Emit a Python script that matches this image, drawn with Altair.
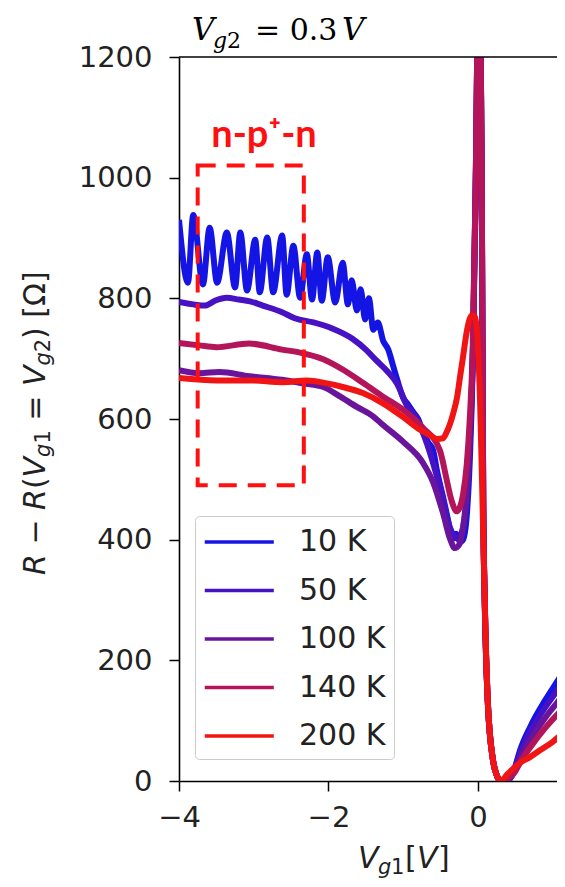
import altair as alt
import pandas as pd

temps = ["10 K", "50 K", "100 K", "140 K", "200 K"]
colors = ["#1414e4", "#4612c4", "#6a149c", "#b4145a", "#f01414"]

# (Vg1 [V], R - R(Vg1=Vg2) [Ohm])
s10 = [(-4.00, 930), (-3.88, 826), (-3.81, 938), (-3.68, 823), (-3.59, 917), (-3.49, 826),
       (-3.36, 909), (-3.25, 818), (-3.18, 909), (-3.09, 813), (-2.98, 897), (-2.92, 810),
       (-2.82, 901), (-2.74, 810), (-2.62, 904), (-2.56, 806), (-2.47, 887), (-2.38, 801),
       (-2.29, 873), (-2.22, 798), (-2.15, 876), (-2.09, 796), (-2.01, 868), (-1.91, 793),
       (-1.81, 859), (-1.74, 790), (-1.69, 830), (-1.62, 780), (-1.57, 815), (-1.51, 765),
       (-1.46, 800), (-1.40, 748), (-1.34, 760), (-1.27, 730), (-1.20, 715), (-1.14, 690),
       (-1.08, 665), (-1.00, 635), (-0.94, 625), (-0.87, 612), (-0.80, 600), (-0.74, 580),
       (-0.67, 562), (-0.60, 548), (-0.55, 515), (-0.47, 472), (-0.40, 432), (-0.35, 400),
       (-0.29, 410), (-0.24, 396), (-0.20, 400), (-0.15, 440), (-0.11, 530), (-0.07, 690),
       (-0.03, 980), (0.01, 1350), (0.05, 1000), (0.07, 466), (0.09, 300), (0.13, 134),
       (0.20, 35), (0.25, 10), (0.30, 0), (0.42, 3), (0.50, 25), (0.56, 50), (0.70, 90),
       (0.90, 134), (1.06, 165), (1.16, 184)]
s50 = [(-4.00, 794), (-3.81, 790), (-3.65, 788), (-3.52, 796), (-3.36, 801), (-3.20, 798),
       (-3.05, 795), (-2.88, 788), (-2.62, 777), (-2.45, 767), (-2.20, 760), (-1.95, 750),
       (-1.68, 733), (-1.50, 715), (-1.36, 697), (-1.22, 680), (-1.08, 658), (-0.95, 622),
       (-0.81, 598), (-0.68, 558), (-0.55, 505), (-0.47, 468), (-0.40, 430), (-0.33, 408),
       (-0.27, 402), (-0.21, 415), (-0.15, 470), (-0.11, 560), (-0.07, 700), (-0.03, 1000),
       (0.01, 1350), (0.05, 1000), (0.07, 466), (0.09, 300), (0.13, 134), (0.20, 35),
       (0.25, 10), (0.30, 0), (0.42, 3), (0.50, 22), (0.56, 44), (0.70, 82), (0.90, 122),
       (1.06, 150), (1.16, 168)]
s100 = [(-4.00, 681), (-3.73, 676), (-3.46, 678), (-3.06, 671), (-2.62, 665), (-2.34, 659),
        (-2.07, 653), (-1.88, 640), (-1.62, 620), (-1.40, 604), (-1.27, 590), (-1.00, 562),
        (-0.74, 528), (-0.60, 495), (-0.47, 445), (-0.37, 400), (-0.31, 386), (-0.25, 392),
        (-0.20, 420), (-0.15, 480), (-0.11, 570), (-0.07, 700), (-0.03, 1000), (0.01, 1350),
        (0.05, 1000), (0.07, 466), (0.09, 300), (0.13, 134), (0.20, 35), (0.25, 10), (0.30, 0),
        (0.40, 3), (0.50, 18), (0.56, 36), (0.70, 68), (0.90, 105), (1.06, 130), (1.16, 145)]
s140 = [(-4.00, 726), (-3.73, 722), (-3.50, 719), (-3.06, 725), (-2.62, 715), (-2.38, 710),
        (-2.07, 699), (-1.81, 682), (-1.54, 660), (-1.27, 637), (-1.00, 615), (-0.74, 586),
        (-0.51, 548), (-0.42, 500), (-0.37, 472), (-0.33, 456), (-0.29, 447), (-0.25, 452),
        (-0.20, 475), (-0.15, 525), (-0.11, 600), (-0.07, 720), (-0.03, 1000), (0.01, 1350),
        (0.05, 1000), (0.07, 466), (0.09, 300), (0.13, 134), (0.20, 35), (0.25, 10), (0.30, 0),
        (0.40, 4), (0.50, 16), (0.56, 30), (0.70, 56), (0.90, 88), (1.06, 110), (1.16, 122)]
s200 = [(-4.00, 668), (-3.49, 664), (-3.05, 664), (-2.61, 661), (-2.29, 664), (-2.02, 659),
        (-1.81, 653), (-1.54, 643), (-1.27, 626), (-1.00, 603), (-0.82, 586), (-0.64, 573),
        (-0.55, 567), (-0.47, 568), (-0.42, 578), (-0.33, 610), (-0.28, 636), (-0.24, 670),
        (-0.20, 703), (-0.15, 745), (-0.08, 772), (-0.04, 769), (-0.01, 740), (0.03, 620),
        (0.06, 466), (0.09, 300), (0.13, 134), (0.20, 35), (0.25, 10), (0.30, 0), (0.40, 12),
        (0.56, 30), (0.70, 40), (0.83, 51), (1.00, 65), (1.16, 82)]
series = [s10, s50, s100, s140, s200]

# annotation box (n-p+-n region), in data units
box_x = [-3.75, -2.33]
box_y = [490, 1020]

x_ticks = [-4, -2, 0]
y_ticks = [0, 200, 400, 600, 800, 1000, 1200]

rows = []
for t, s in zip(temps, series):
    for vx, vy in s:
        rows.append({"Vg1": vx, "R": vy, "T": t})
df = pd.DataFrame(rows)

W, H = 378, 724
xscale = alt.Scale(domain=[-4, 1.057], nice=False, zero=False)
yscale = alt.Scale(domain=[0, 1200], nice=False, zero=False)

xaxis = alt.Axis(values=x_ticks, title=None, grid=False, labelFont="DejaVu Sans",
                 labelFontSize=29, labelColor="#222222", tickColor="black", tickSize=10,
                 tickWidth=1.5, domainColor="black", domainWidth=1.6, labelPadding=12,
                 labelFlush=False, labelOverlap=False, format="d")
yaxis = alt.Axis(values=y_ticks, title=None, grid=False, labelFont="DejaVu Sans",
                 labelFontSize=29, labelColor="#222222", tickColor="black", tickSize=10,
                 tickWidth=1.5, domainColor="black", domainWidth=1.6, labelPadding=17,
                 labelOverlap=False, format="d")

color = alt.Color("T:N", scale=alt.Scale(domain=temps, range=colors), sort=temps,
                  legend=alt.Legend(title=None, orient="none", legendX=16, legendY=459))

layers = []
for t in temps:
    layers.append(alt.Chart(df[df["T"] == t]).mark_line(
        strokeWidth=6, clip=True, interpolate="monotone").encode(
        x=alt.X("Vg1:Q", scale=xscale, axis=xaxis),
        y=alt.Y("R:Q", scale=yscale, axis=yaxis),
        color=color))

top_spine = alt.Chart(alt.Data(values=[{"v": 1200}])).mark_rule(
    color="black", strokeWidth=1.6).encode(y=alt.Y("v:Q", scale=yscale, axis=yaxis))

box = alt.Chart(alt.Data(values=[{"x1": box_x[0], "x2": box_x[1], "y1": box_y[0], "y2": box_y[1]}])).mark_rect(
    fill=None, fillOpacity=0, stroke="#ff1010", strokeWidth=4, strokeDash=[18, 11]).encode(
    x=alt.X("x1:Q", scale=xscale, axis=xaxis), x2="x2:Q",
    y=alt.Y("y1:Q", scale=yscale, axis=yaxis), y2="y2:Q")


def txt(s, px, py, size=30, style="normal", weight="normal", font="DejaVu Sans",
        angle=0, color_="#222222", align="left"):
    kw = dict(fontSize=size, fontStyle=style, fontWeight=weight, font=font, color=color_,
              align=align, baseline="alphabetic")
    if angle:
        kw["angle"] = angle
    return alt.Chart(alt.Data(values=[{"s": s}])).mark_text(**kw).encode(
        text="s:N", x=alt.value(px - 179), y=alt.value(py - 57))


texts = []
# title: V_g2 = 0.3 V
texts += [txt("V", 192, 40, 31, "italic", font="DejaVu Serif", color_="black"),
          txt("g", 213, 48, 22, "italic", font="DejaVu Serif", color_="black"),
          txt("2", 227, 48, 22, font="DejaVu Serif", color_="black"),
          txt("= 0.3", 255, 40, 30, font="DejaVu Serif", color_="black"),
          txt("V", 342, 40, 31, "italic", font="DejaVu Serif", color_="black")]
# x title: V_g1[V]
texts += [txt("V", 358, 868, 30, "italic"), txt("g", 378, 874, 21, "italic"),
          txt("1", 391, 874, 21), txt("[", 405, 868, 30), txt("V", 417, 868, 30, "italic"),
          txt("]", 438, 868, 30)]
# y title: R - R(V_g1 = V_g2) [Ohm], rotated
bx, sx = 45, 50
ytitle = [("R", bx, 575, 30, "italic"), ("\u2212", bx, 544.6, 30, "normal"),
          ("R", bx, 510, 30, "italic"), ("(", bx, 489.1, 30, "normal"),
          ("V", bx, 477.4, 30, "italic"), ("g", sx, 456.9, 21, "italic"),
          ("1", sx, 443.6, 21, "normal"), ("=", bx, 420.7, 30, "normal"),
          ("V", bx, 386.1, 30, "italic"), ("g", sx, 365.6, 21, "italic"),
          ("2", sx, 352.3, 21, "normal"), (")", bx, 338.9, 30, "normal"),
          ("[\u03a9]", bx, 317.7, 30, "normal")]
for s, px, py, sz, st in ytitle:
    texts.append(txt(s, px, py, sz, st, angle=270))
# annotation label
texts.append(txt("n-p\u207a-n", 264, 147, 38, weight="bold", font="Lato", color_="#ff1010",
                 align="center"))

chart = alt.layer(*layers, top_spine, box, *texts).properties(
    width=W, height=H, autosize="none",
    padding={"left": 171, "top": 49, "right": 0, "bottom": 98},
).configure_view(stroke=None).configure_legend(
    padding=8, fillColor="white", strokeColor="#cccccc", cornerRadius=4,
    labelFont="DejaVu Sans", labelFontSize=30, labelColor="#222222", labelOffset=60,
    rowPadding=15.5, symbolType="M-1,0H3.25", symbolSize=1056, symbolStrokeWidth=3.5,
    labelLimit=400,
)

chart.save("out.html", embed_options={"renderer": "svg", "actions": False})
